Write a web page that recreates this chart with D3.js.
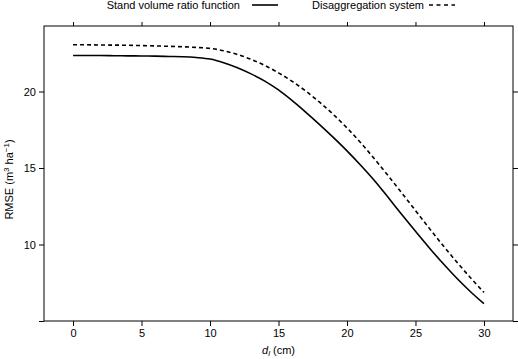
<!DOCTYPE html>
<html>
<head>
<meta charset="utf-8">
<script src="https://cdn.jsdelivr.net/npm/d3@7"></script>
<style>
  body { margin: 0; background: #fff; }
  svg { display: block; font-family: "Liberation Sans", Arial, sans-serif; }
  .axis text { font-size: 11px; fill: #000; }
  .axis path, .axis line { stroke: #000; }
</style>
</head>
<body>
<div id="chart"></div>
<script>
// diameter limit (cm)
const diam = [0, 1, 2, 3, 4, 5, 6, 7, 8, 9, 10, 11, 12, 13, 14, 15, 16, 17, 18, 19, 20, 21, 22, 23, 24, 25, 26, 27, 28, 29, 30];
// RMSE, stand volume ratio function
const ratioRmse = [22.35, 22.35, 22.35, 22.34, 22.33, 22.32, 22.31, 22.29, 22.27, 22.22, 22.12, 21.88, 21.55, 21.15, 20.68, 20.1, 19.4, 18.64, 17.84, 17.0, 16.12, 15.18, 14.18, 13.08, 11.96, 10.86, 9.79, 8.77, 7.81, 6.93, 6.13];
// RMSE, disaggregation system
const disaggRmse = [23.05, 23.05, 23.04, 23.03, 23.02, 23.0, 22.98, 22.95, 22.92, 22.88, 22.82, 22.66, 22.42, 22.1, 21.7, 21.22, 20.66, 20.02, 19.3, 18.5, 17.62, 16.65, 15.6, 14.5, 13.37, 12.22, 11.07, 9.95, 8.87, 7.84, 6.87];

const xTicks = [0, 5, 10, 15, 20, 25, 30];
const yTicks = [5, 10, 15, 20];
const yLabelled = [10, 15, 20];

const seriesNames = ["Stand volume ratio function", "Disaggregation system"];

const width = 518, height = 359;
const margin = { left: 44, right: 5, top: 26, bottom: 38 };

const svg = d3.select("#chart").append("svg").attr("width", width).attr("height", height);

const x = d3.scaleLinear().domain([-2.12, 32.12]).range([margin.left, width - margin.right]);
const y = d3.scaleLinear().domain([5, 24.28]).range([height - margin.bottom, margin.top]);

// frame
svg.append("rect")
  .attr("x", margin.left).attr("y", margin.top)
  .attr("width", width - margin.left - margin.right)
  .attr("height", height - margin.top - margin.bottom)
  .attr("fill", "none").attr("stroke", "#000");

const xAxis = d3.axisBottom(x).tickValues(xTicks).tickSize(5).tickPadding(3);
svg.append("g").attr("class", "axis")
  .attr("transform", `translate(0,${height - margin.bottom})`)
  .call(xAxis).call(g => g.select(".domain").remove());

svg.append("g").attr("class", "axis")
  .attr("transform", `translate(0,${margin.top})`)
  .call(d3.axisTop(x).tickValues(xTicks).tickSize(4).tickFormat(""))
  .call(g => g.select(".domain").remove());

const yAxis = d3.axisLeft(y).tickValues(yTicks).tickSize(5).tickPadding(3)
  .tickFormat(d => yLabelled.includes(d) ? d : "");
svg.append("g").attr("class", "axis")
  .attr("transform", `translate(${margin.left},0)`)
  .call(yAxis).call(g => g.select(".domain").remove());

svg.append("g").attr("class", "axis")
  .attr("transform", `translate(${width - margin.right},0)`)
  .call(d3.axisRight(y).tickValues(yTicks).tickSize(5).tickFormat(""))
  .call(g => g.select(".domain").remove());

// axis titles
const xt = svg.append("text")
  .attr("x", (x(0) + x(30)) / 2).attr("y", 354)
  .attr("text-anchor", "middle").attr("font-size", 11);
xt.append("tspan").attr("font-style", "italic").text("d");
xt.append("tspan").attr("font-style", "italic").attr("font-size", 8).attr("dy", 2).text("l");
xt.append("tspan").attr("dy", -2).text(" (cm)");

const yt = svg.append("text")
  .attr("transform", `translate(13,${(y(5) + y(24.28)) / 2 + 6}) rotate(-90)`)
  .attr("text-anchor", "middle").attr("font-size", 11);
yt.append("tspan").text("RMSE (m");
yt.append("tspan").attr("font-size", 8).attr("dy", -4).text("3");
yt.append("tspan").attr("dy", 4).text(" ha");
yt.append("tspan").attr("font-size", 8).attr("dy", -4).text("−1");
yt.append("tspan").attr("dy", 4).text(")");

// curves
const line = d3.line()
  .x((d, i) => x(diam[i]))
  .y(d => y(d))
  .curve(d3.curveMonotoneX);

svg.append("path").datum(ratioRmse)
  .attr("d", line).attr("fill", "none")
  .attr("stroke", "#000").attr("stroke-width", 1.6);

svg.append("path").datum(disaggRmse)
  .attr("d", line).attr("fill", "none")
  .attr("stroke", "#000").attr("stroke-width", 1.6)
  .attr("stroke-dasharray", "4,3");

// legend
const legend = svg.append("g").attr("font-size", 11);
legend.append("text").attr("x", 240).attr("y", 9).attr("text-anchor", "end").text(seriesNames[0]);
legend.append("line").attr("x1", 252).attr("x2", 278).attr("y1", 5).attr("y2", 5)
  .attr("stroke", "#000").attr("stroke-width", 1.6);
legend.append("text").attr("x", 424).attr("y", 9).attr("text-anchor", "end").text(seriesNames[1]);
legend.append("line").attr("x1", 429).attr("x2", 455).attr("y1", 5).attr("y2", 5)
  .attr("stroke", "#000").attr("stroke-width", 1.6).attr("stroke-dasharray", "4,3.5");
</script>
</body>
</html>
